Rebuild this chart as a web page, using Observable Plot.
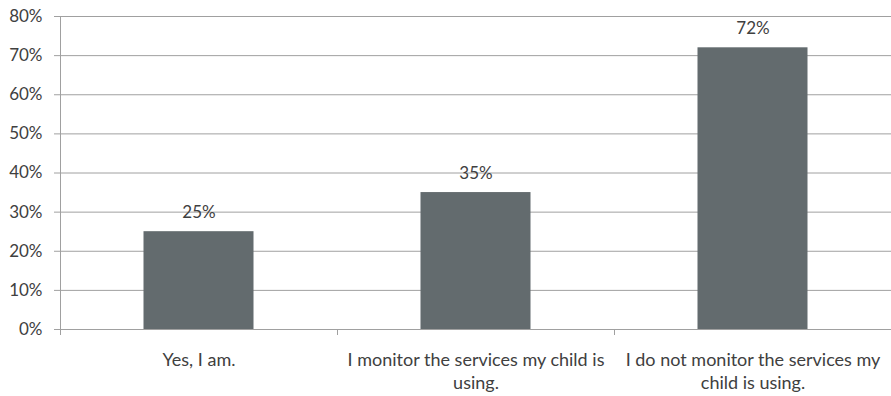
<!DOCTYPE html>
<html><head><meta charset="utf-8">
<script src="https://cdn.jsdelivr.net/npm/d3@7"></script>
<script src="https://cdn.jsdelivr.net/npm/@observablehq/plot@0.6"></script>
<style>body{margin:0;background:#fff} svg{display:block}</style>
</head><body><div id="chart"></div>
<script>
const categories = [
  "Yes, I am.",
  "I monitor the services my child is\nusing.",
  "I do not monitor the services my\nchild is using."
];
const values = [0.25, 0.35, 0.72];
const yTicks = [0, 0.1, 0.2, 0.3, 0.4, 0.5, 0.6, 0.7, 0.8];
const bandEdges = [0, 1, 2, 3];

const data = categories.map((c, i) => ({i, category: c, value: values[i]}));
const pct = d3.format(".0%");
const gridColor = "#a0a0a0";
const textColor = "#404040";

const chart = Plot.plot({
  width: 891, height: 396,
  marginLeft: 60, marginRight: 0, marginTop: 16, marginBottom: 67,
  style: {fontFamily: "Lato, 'Open Sans', sans-serif", fontSize: "17px", color: textColor, background: "#fff", overflow: "visible"},
  x: {domain: [0, categories.length], axis: null},
  y: {domain: [0, 0.8], axis: null},
  marks: [
    Plot.ruleY(yTicks, {stroke: gridColor}),
    Plot.rectY(data, {x1: "i", x2: d => d.i + 1, y: "value", insetLeft: 83.5, insetRight: 83.5, fill: "#636b6e"}),
    Plot.ruleY([0], {stroke: gridColor}),
    Plot.ruleX([0], {stroke: gridColor}),
    Plot.axisY({ticks: yTicks, tickFormat: pct, tickSize: 6, tickPadding: 12, stroke: gridColor, fill: textColor, fontSize: 17, label: null}),
    Plot.axisX({ticks: bandEdges, tickFormat: () => "", tickSize: 6, stroke: gridColor, label: null}),
    Plot.text(data, {x: d => d.i + 0.5, y: "value", text: d => pct(d.value), lineAnchor: "bottom", dy: -14, fill: textColor, fontSize: 17}),
    Plot.text(data, {x: d => d.i + 0.5, y: () => 0, text: "category", lineAnchor: "top", dy: 20, lineHeight: 1.28, fill: textColor, fontSize: 18})
  ]
});
document.getElementById("chart").append(chart);
</script>
</body></html>
